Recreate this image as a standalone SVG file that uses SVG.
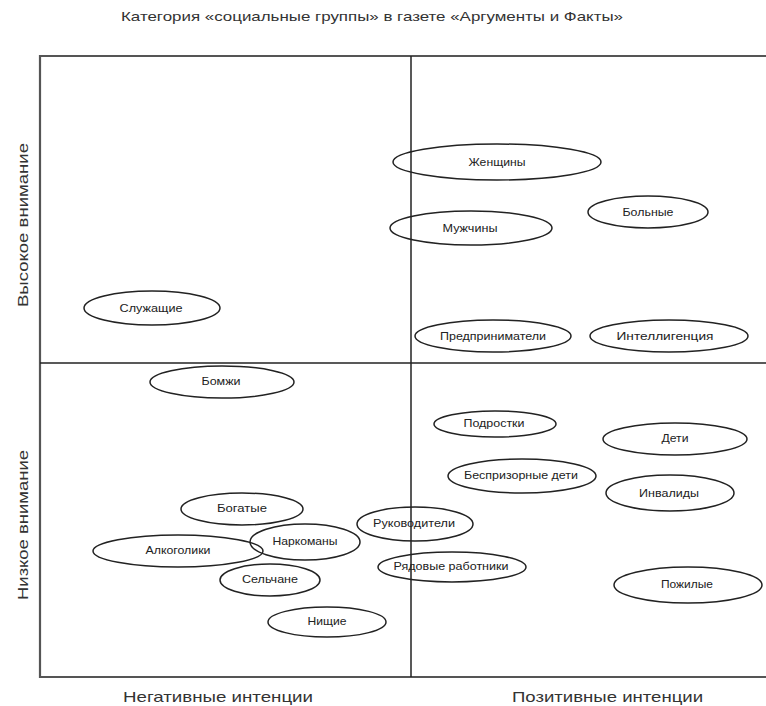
<svg xmlns="http://www.w3.org/2000/svg" width="766" height="706" viewBox="0 0 766 706">
<style>
.frame{fill:none;stroke:#555;stroke-width:2.2}
.axis{stroke:#222;stroke-width:1.5}
.node ellipse{fill:none;stroke:#222;stroke-width:1.5}
.node text{font-family:"Liberation Sans",Arial,sans-serif;font-size:11px;fill:#222;text-anchor:middle;dominant-baseline:central}
.lbl{font-family:"Liberation Sans",Arial,sans-serif;fill:#333}
</style>
<rect width="766" height="706" fill="#fff"/>
<text class="lbl" x="121" y="21" font-size="13" textLength="502" lengthAdjust="spacingAndGlyphs">Категория «социальные группы» в газете «Аргументы и Факты»</text>
<g id="frame">
<path class="frame" d="M770,56 H40 V677 H770"/>
</g>
<g id="axes">
<line class="axis" x1="411" y1="56" x2="411" y2="677"/>
<line class="axis" x1="40" y1="363" x2="770" y2="363"/>
</g>
<text class="lbl" font-size="15" text-anchor="middle" textLength="164" lengthAdjust="spacingAndGlyphs" transform="translate(28,225) rotate(-90)">Высокое внимание</text>
<text class="lbl" font-size="15" text-anchor="middle" textLength="150" lengthAdjust="spacingAndGlyphs" transform="translate(28,525) rotate(-90)">Низкое внимание</text>
<text class="lbl" font-size="15" x="123" y="702" textLength="190" lengthAdjust="spacingAndGlyphs">Негативные интенции</text>
<text class="lbl" font-size="15" x="512" y="702" textLength="191" lengthAdjust="spacingAndGlyphs">Позитивные интенции</text>
<g id="connectors"></g>
<g id="n-zhenshchiny" class="node"><ellipse cx="497" cy="162" rx="104" ry="18"/><text x="497" y="162" textLength="57" lengthAdjust="spacingAndGlyphs">Женщины</text></g>
<g id="n-bolnye" class="node"><ellipse cx="648" cy="212" rx="60" ry="16"/><text x="648" y="212" textLength="51" lengthAdjust="spacingAndGlyphs">Больные</text></g>
<g id="n-muzhchiny" class="node"><ellipse cx="471" cy="228" rx="81" ry="17"/><text x="470" y="228" textLength="55" lengthAdjust="spacingAndGlyphs">Мужчины</text></g>
<g id="n-predprinimateli" class="node"><ellipse cx="493" cy="336" rx="78" ry="16"/><text x="493" y="336" textLength="106" lengthAdjust="spacingAndGlyphs">Предприниматели</text></g>
<g id="n-intelligentsiya" class="node"><ellipse cx="669" cy="336" rx="79" ry="16"/><text x="665" y="336" textLength="97" lengthAdjust="spacingAndGlyphs">Интеллигенция</text></g>
<g id="n-sluzhashchie" class="node"><ellipse cx="152" cy="308" rx="68" ry="17"/><text x="151" y="308" textLength="63" lengthAdjust="spacingAndGlyphs">Служащие</text></g>
<g id="n-bomzhi" class="node"><ellipse cx="222" cy="382" rx="72" ry="16"/><text x="221" y="381" textLength="39" lengthAdjust="spacingAndGlyphs">Бомжи</text></g>
<g id="n-bogatye" class="node"><ellipse cx="242" cy="509" rx="61" ry="16"/><text x="242" y="508" textLength="50" lengthAdjust="spacingAndGlyphs">Богатые</text></g>
<g id="n-alkogoliki" class="node"><ellipse cx="178" cy="551" rx="85" ry="16"/><text x="178" y="550" textLength="65" lengthAdjust="spacingAndGlyphs">Алкоголики</text></g>
<g id="n-narkomany" class="node"><ellipse cx="305" cy="542" rx="55" ry="18"/><text x="305" y="541" textLength="65" lengthAdjust="spacingAndGlyphs">Наркоманы</text></g>
<g id="n-selchane" class="node"><ellipse cx="270" cy="580" rx="50" ry="16"/><text x="270" y="579" textLength="56" lengthAdjust="spacingAndGlyphs">Сельчане</text></g>
<g id="n-nishchie" class="node"><ellipse cx="327" cy="622" rx="59" ry="15"/><text x="327" y="621" textLength="39" lengthAdjust="spacingAndGlyphs">Нищие</text></g>
<g id="n-podrostki" class="node"><ellipse cx="495" cy="424" rx="61" ry="13"/><text x="494" y="423" textLength="61" lengthAdjust="spacingAndGlyphs">Подростки</text></g>
<g id="n-deti" class="node"><ellipse cx="675" cy="439" rx="72" ry="16"/><text x="675" y="438" textLength="27" lengthAdjust="spacingAndGlyphs">Дети</text></g>
<g id="n-besprizornye" class="node"><ellipse cx="522" cy="476" rx="74" ry="17"/><text x="521" y="475" textLength="114" lengthAdjust="spacingAndGlyphs">Беспризорные дети</text></g>
<g id="n-invalidy" class="node"><ellipse cx="670" cy="493" rx="64" ry="18"/><text x="669" y="493" textLength="60" lengthAdjust="spacingAndGlyphs">Инвалиды</text></g>
<g id="n-rukovoditeli" class="node"><ellipse cx="415" cy="524" rx="58" ry="17"/><text x="414" y="523" textLength="82" lengthAdjust="spacingAndGlyphs">Руководители</text></g>
<g id="n-ryadovye" class="node"><ellipse cx="452" cy="567" rx="74" ry="15"/><text x="451" y="566" textLength="115" lengthAdjust="spacingAndGlyphs">Рядовые работники</text></g>
<g id="n-pozhilye" class="node"><ellipse cx="688" cy="585" rx="74" ry="18"/><text x="687" y="584" textLength="52" lengthAdjust="spacingAndGlyphs">Пожилые</text></g>
</svg>
